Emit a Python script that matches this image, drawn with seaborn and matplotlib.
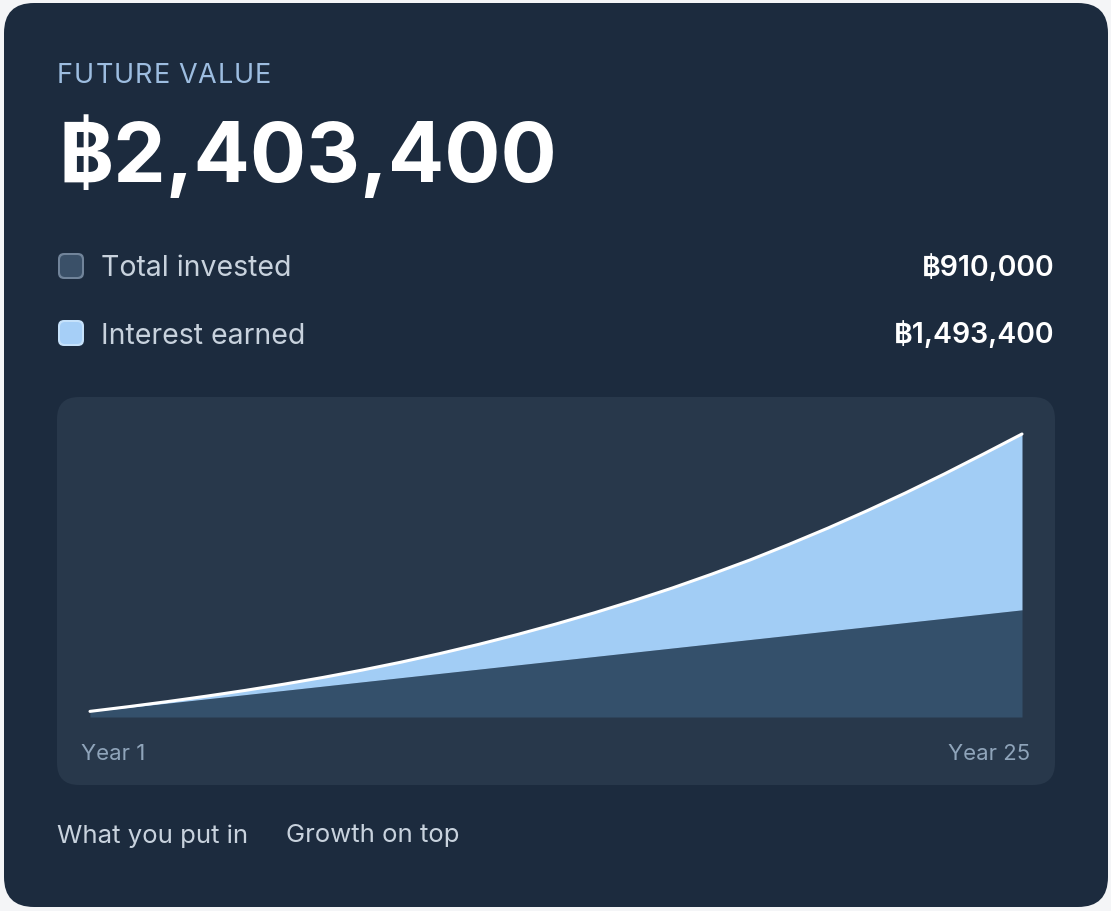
import numpy as np
import pandas as pd
import matplotlib
matplotlib.use('Agg')
import matplotlib.pyplot as plt
from matplotlib.patches import FancyBboxPatch
import seaborn as sns

# данные
years = list(range(1, 26))
total_invested = [46000, 82000, 118000, 154000, 190000, 226000, 262000, 298000, 334000,
                  370000, 406000, 442000, 478000, 514000, 550000, 586000, 622000, 658000,
                  694000, 730000, 766000, 802000, 838000, 874000, 910000]
future_value = [47800, 88000, 131000, 177000, 226000, 279000, 336000, 398000, 465000,
                538000, 616000, 700000, 790000, 886000, 988000, 1096000, 1212000, 1334000,
                1466000, 1604000, 1750000, 1903000, 2064000, 2232000, 2403400]
legend_labels = ['Total invested', 'Interest earned']
legend_values = ['฿910,000', '฿1,493,400']
headline = '฿2,403,400'
x_labels = ['Year 1', 'Year 25']
footer_labels = ['What you put in', 'Growth on top']

df = pd.DataFrame({'year': years, 'invested': total_invested, 'total': future_value})

sns.set_style('white')
plt.rcParams['font.family'] = ['Inter', 'DejaVu Sans']

W, H = 1111, 912
fig = plt.figure(figsize=(W / 100, H / 100), dpi=100)
fig.patch.set_facecolor('#f4f5f7')


def px_box(x0, y0, x1, y1, r, color, z=-5):
    # прямоугольник со скруглением в пикселях
    p = FancyBboxPatch((x0 / 100, (H - y1) / 100), (x1 - x0) / 100, (y1 - y0) / 100,
                       boxstyle=f'round,pad=0,rounding_size={r / 100}',
                       transform=fig.dpi_scale_trans, facecolor=color,
                       edgecolor='none', zorder=z)
    fig.patches.append(p)
    return p


def fx(x):
    return x / W


def fy(y):
    return 1 - y / H


px_box(4, 4, 1108, 908, 30, '#1c2b3e', z=-6)
px_box(57, 398, 1055, 786, 22, '#28384b', z=-5)

# шапка (буквы по одной, чтобы получить разрядку)
title = 'FUTURE VALUE'
tx = 57
renderer = fig.canvas.get_renderer()
for ch in title:
    t = fig.text(fx(tx), fy(76), ch, color='#9dbde0', fontsize=19.5,
                 va='center', ha='left')
    tx += t.get_window_extent(renderer).width + 1.1 if ch != ' ' else 7

fig.text(fx(58), fy(157), headline, color='white', fontsize=60, fontweight='bold',
         va='center', ha='left')

# легенда
sq_colors = [('#3a5068', '#71849a'), ('#a6cff7', '#c6e2fb')]
rows_y = [267, 334]
for (fc, ec), lab, val, yy in zip(sq_colors, legend_labels, legend_values, rows_y):
    px_box(58, yy - 13, 84, yy + 13, 6, ec, z=-4)
    px_box(60, yy - 11, 82, yy + 11, 5, fc, z=-3)
    fig.text(fx(101), fy(yy + 2), lab, color='#c8d2dd', fontsize=20.5, va='center', ha='left')
    fig.text(fx(1054), fy(yy + 1), val, color='white', fontsize=20.5, fontweight='semibold',
             va='center', ha='right')

# график
ax = fig.add_axes([fx(90), fy(718), (1022 - 90) / W, (718 - 435) / H])
ax.set_zorder(2)
ax.set_facecolor('none')
ax.fill_between(df['year'], 0, df['invested'], color='#34506b', linewidth=0)
ax.fill_between(df['year'], df['invested'], df['total'], color='#a2cdf5', linewidth=0)
sns.lineplot(data=df, x='year', y='total', color='white', linewidth=2.2, ax=ax,
             clip_on=False)
ax.set_xlim(years[0], years[-1])
ax.set_ylim(0, future_value[-1])
ax.axis('off')

fig.text(fx(81), fy(754), x_labels[0], color='#8fa4ba', fontsize=16, va='center', ha='left')
fig.text(fx(1030), fy(754), x_labels[1], color='#8fa4ba', fontsize=16, va='center', ha='right')

# подпись снизу
fig.text(fx(57), fy(836), footer_labels[0], color='#c8d2dd', fontsize=18.5, va='center', ha='left')
fig.text(fx(286), fy(836), footer_labels[1], color='#c8d2dd', fontsize=18.5, va='center', ha='left')

plt.savefig('out.png', dpi=100, facecolor=fig.get_facecolor())
